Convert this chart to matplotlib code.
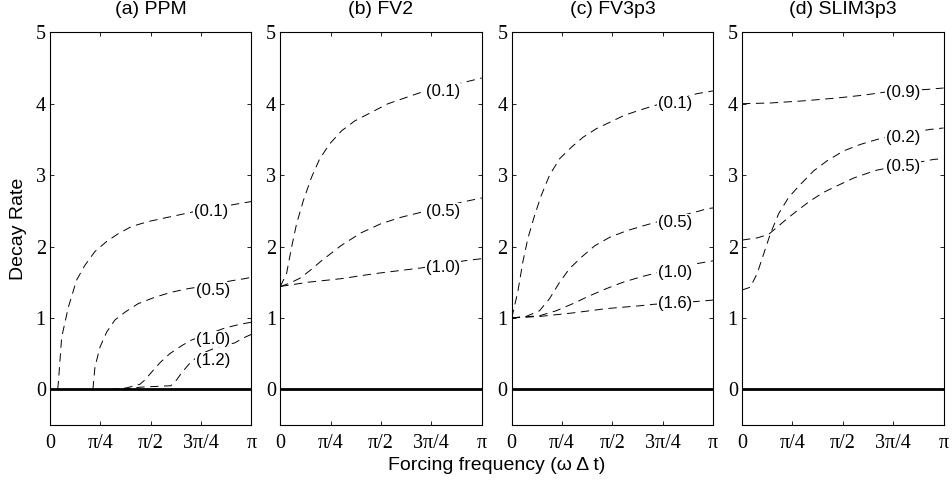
import numpy as np
import matplotlib
matplotlib.use("Agg")
import matplotlib.pyplot as plt

plt.rcParams['lines.scale_dashes'] = False

# x values in units of pi
titles = ["(a) PPM", "(b) FV2", "(c) FV3p3", "(d) SLIM3p3"]

# ---- (a) PPM ----
a_x01 = [0.038, 0.041, 0.058, 0.091, 0.132, 0.174, 0.223, 0.281, 0.339, 0.405, 0.488, 0.570, 0.653, 0.702, 0.80, 0.917, 1.0]
a_y01 = [0.0, 0.08, 0.73, 1.15, 1.53, 1.74, 1.93, 2.07, 2.18, 2.28, 2.35, 2.40, 2.45, 2.48, 2.53, 2.59, 2.63]
a_x05 = [0.213, 0.215, 0.223, 0.248, 0.281, 0.322, 0.372, 0.438, 0.521, 0.603, 0.686, 0.80, 0.90, 0.967, 1.0]
a_y05 = [0.0, 0.06, 0.31, 0.59, 0.80, 0.97, 1.08, 1.20, 1.29, 1.36, 1.41, 1.46, 1.52, 1.55, 1.57]
a_x10 = [0.30, 0.38, 0.446, 0.471, 0.504, 0.545, 0.595, 0.653, 0.702, 0.80, 0.87, 0.942, 1.0]
a_y10 = [0.0, 0.02, 0.07, 0.13, 0.24, 0.37, 0.50, 0.61, 0.69, 0.79, 0.86, 0.91, 0.94]
a_x12 = [0.36, 0.45, 0.60, 0.628, 0.653, 0.686, 0.711, 0.76, 0.83, 0.917, 0.96, 1.0]
a_y12 = [0.0, 0.03, 0.05, 0.13, 0.23, 0.34, 0.41, 0.51, 0.59, 0.65, 0.72, 0.77]

# ---- (b) FV2 ----
b_x01 = [0.0, 0.031, 0.056, 0.081, 0.114, 0.155, 0.196, 0.246, 0.304, 0.370, 0.452, 0.535, 0.617, 0.70, 0.81, 0.914, 1.0]
b_y01 = [1.44, 1.62, 1.99, 2.32, 2.64, 2.97, 3.23, 3.44, 3.62, 3.76, 3.88, 4.00, 4.08, 4.16, 4.23, 4.30, 4.36]
b_x05 = [0.0, 0.05, 0.10, 0.15, 0.20, 0.25, 0.30, 0.40, 0.50, 0.60, 0.70, 0.80, 0.90, 1.0]
b_y05 = [1.44, 1.49, 1.56, 1.67, 1.79, 1.90, 2.01, 2.19, 2.32, 2.41, 2.48, 2.55, 2.62, 2.68]
b_x10 = [0.0, 0.139, 0.304, 0.469, 0.70, 0.81, 0.914, 1.0]
b_y10 = [1.44, 1.50, 1.55, 1.62, 1.70, 1.75, 1.80, 1.83]

# ---- (c) FV3p3 ----
c_x01 = [0.0, 0.03, 0.055, 0.08, 0.113, 0.146, 0.188, 0.238, 0.296, 0.354, 0.42, 0.487, 0.561, 0.636, 0.703, 0.81, 0.919, 1.0]
c_y01 = [1.0, 1.36, 1.78, 2.11, 2.43, 2.71, 3.00, 3.23, 3.39, 3.53, 3.65, 3.74, 3.84, 3.91, 3.97, 4.05, 4.14, 4.18]
c_x05 = [0.0, 0.071, 0.138, 0.188, 0.238, 0.287, 0.346, 0.412, 0.487, 0.57, 0.653, 0.703, 0.81, 0.935, 0.968, 1.0]
c_y05 = [1.0, 1.02, 1.10, 1.27, 1.50, 1.69, 1.85, 2.01, 2.13, 2.22, 2.29, 2.33, 2.41, 2.50, 2.53, 2.54]
c_x10 = [0.0, 0.138, 0.221, 0.304, 0.387, 0.47, 0.553, 0.636, 0.703, 0.81, 0.919, 1.0]
c_y10 = [1.0, 1.03, 1.10, 1.20, 1.31, 1.41, 1.50, 1.57, 1.62, 1.69, 1.76, 1.80]
c_x16 = [0.0, 0.138, 0.304, 0.47, 0.636, 0.703, 0.81, 0.919, 1.0]
c_y16 = [1.0, 1.02, 1.07, 1.13, 1.17, 1.19, 1.21, 1.23, 1.25]

# ---- (d) SLIM3p3 ----
d_x09 = [0.0, 0.141, 0.306, 0.472, 0.604, 0.704, 0.80, 0.919, 1.0]
d_y09 = [4.0, 4.01, 4.04, 4.08, 4.12, 4.16, 4.18, 4.20, 4.22]
d_x02 = [0.0, 0.041, 0.075, 0.108, 0.141, 0.182, 0.232, 0.29, 0.356, 0.422, 0.505, 0.588, 0.671, 0.80, 0.935, 1.0]
d_y02 = [1.39, 1.43, 1.62, 1.90, 2.18, 2.46, 2.69, 2.87, 3.06, 3.20, 3.34, 3.43, 3.50, 3.58, 3.64, 3.66]
d_x05 = [0.0, 0.075, 0.132, 0.174, 0.224, 0.273, 0.339, 0.406, 0.472, 0.555, 0.637, 0.67, 0.80, 0.952, 1.0]
d_y05 = [2.09, 2.12, 2.17, 2.27, 2.39, 2.50, 2.64, 2.76, 2.85, 2.96, 3.04, 3.07, 3.14, 3.22, 3.23]

panels = [
    [(a_x01, a_y01, "(0.1)", 0.80, 2.49), (a_x05, a_y05, "(0.5)", 0.81, 1.39),
     (a_x10, a_y10, "(1.0)", 0.81, 0.70), (a_x12, a_y12, "(1.2)", 0.81, 0.41)],
    [(b_x01, b_y01, "(0.1)", 0.807, 4.17), (b_x05, b_y05, "(0.5)", 0.807, 2.49),
     (b_x10, b_y10, "(1.0)", 0.807, 1.70)],
    [(c_x01, c_y01, "(0.1)", 0.81, 4.00), (c_x05, c_y05, "(0.5)", 0.81, 2.34),
     (c_x10, c_y10, "(1.0)", 0.81, 1.64), (c_x16, c_y16, "(1.6)", 0.81, 1.20)],
    [(d_x09, d_y09, "(0.9)", 0.80, 4.15), (d_x02, d_y02, "(0.2)", 0.80, 3.53),
     (d_x05, d_y05, "(0.5)", 0.80, 3.12)],
]

xticks = [0, 0.25, 0.5, 0.75, 1.0]
xticklabels = ["0", "π/4", "π/2", "3π/4", "π"]
yticks = [0, 1, 2, 3, 4, 5]

fig = plt.figure(figsize=(9.53, 4.84), dpi=100)
lefts = [50 / 953, 280.3 / 953, 511.7 / 953, 742 / 953]
w = 201.5 / 953
b = 59 / 484
h = 392.7 / 484

serif = "Liberation Serif"
sans = "Liberation Sans"

for i, (l, curves) in enumerate(zip(lefts, panels)):
    ax = fig.add_axes([l, b, w, h])
    for (xs, ys, lab, lx, ly) in curves:
        ax.plot(xs, ys, color="black", lw=0.7, dashes=(6, 4), zorder=2)
        ax.text(lx, ly, lab, fontsize=12, family=sans, ha="center", va="center",
                bbox=dict(facecolor="white", edgecolor="none", pad=0.5), zorder=3)
    ax.axhline(0, color="black", lw=2.0, zorder=4)
    ax.set_xlim(0, 1)
    ax.set_ylim(-0.5, 5)
    ax.set_xticks(xticks)
    ax.set_xticklabels(xticklabels, family=serif, fontsize=14.5)
    ax.set_yticks(yticks)
    ax.set_yticklabels([str(v) for v in yticks], family=serif, fontsize=14.5)
    ax.tick_params(direction="in", length=3, width=0.6, top=True, right=True)
    ax.tick_params(axis="x", pad=6.5)
    ax.tick_params(axis="y", pad=3)
    for s in ax.spines.values():
        s.set_linewidth(0.8)
    ax.set_title(titles[i], family=sans, fontsize=14, pad=13)

fig.text(18.5 / 953, 1 - 228.5 / 484, "Decay Rate", rotation=90, ha="center", va="center",
         family=sans, fontsize=14)
fig.text(496.5 / 953, 1 - 470 / 484, "Forcing frequency (ω Δ t)", ha="center", va="baseline",
         family=sans, fontsize=14)

fig.savefig("out.png", dpi=100)
